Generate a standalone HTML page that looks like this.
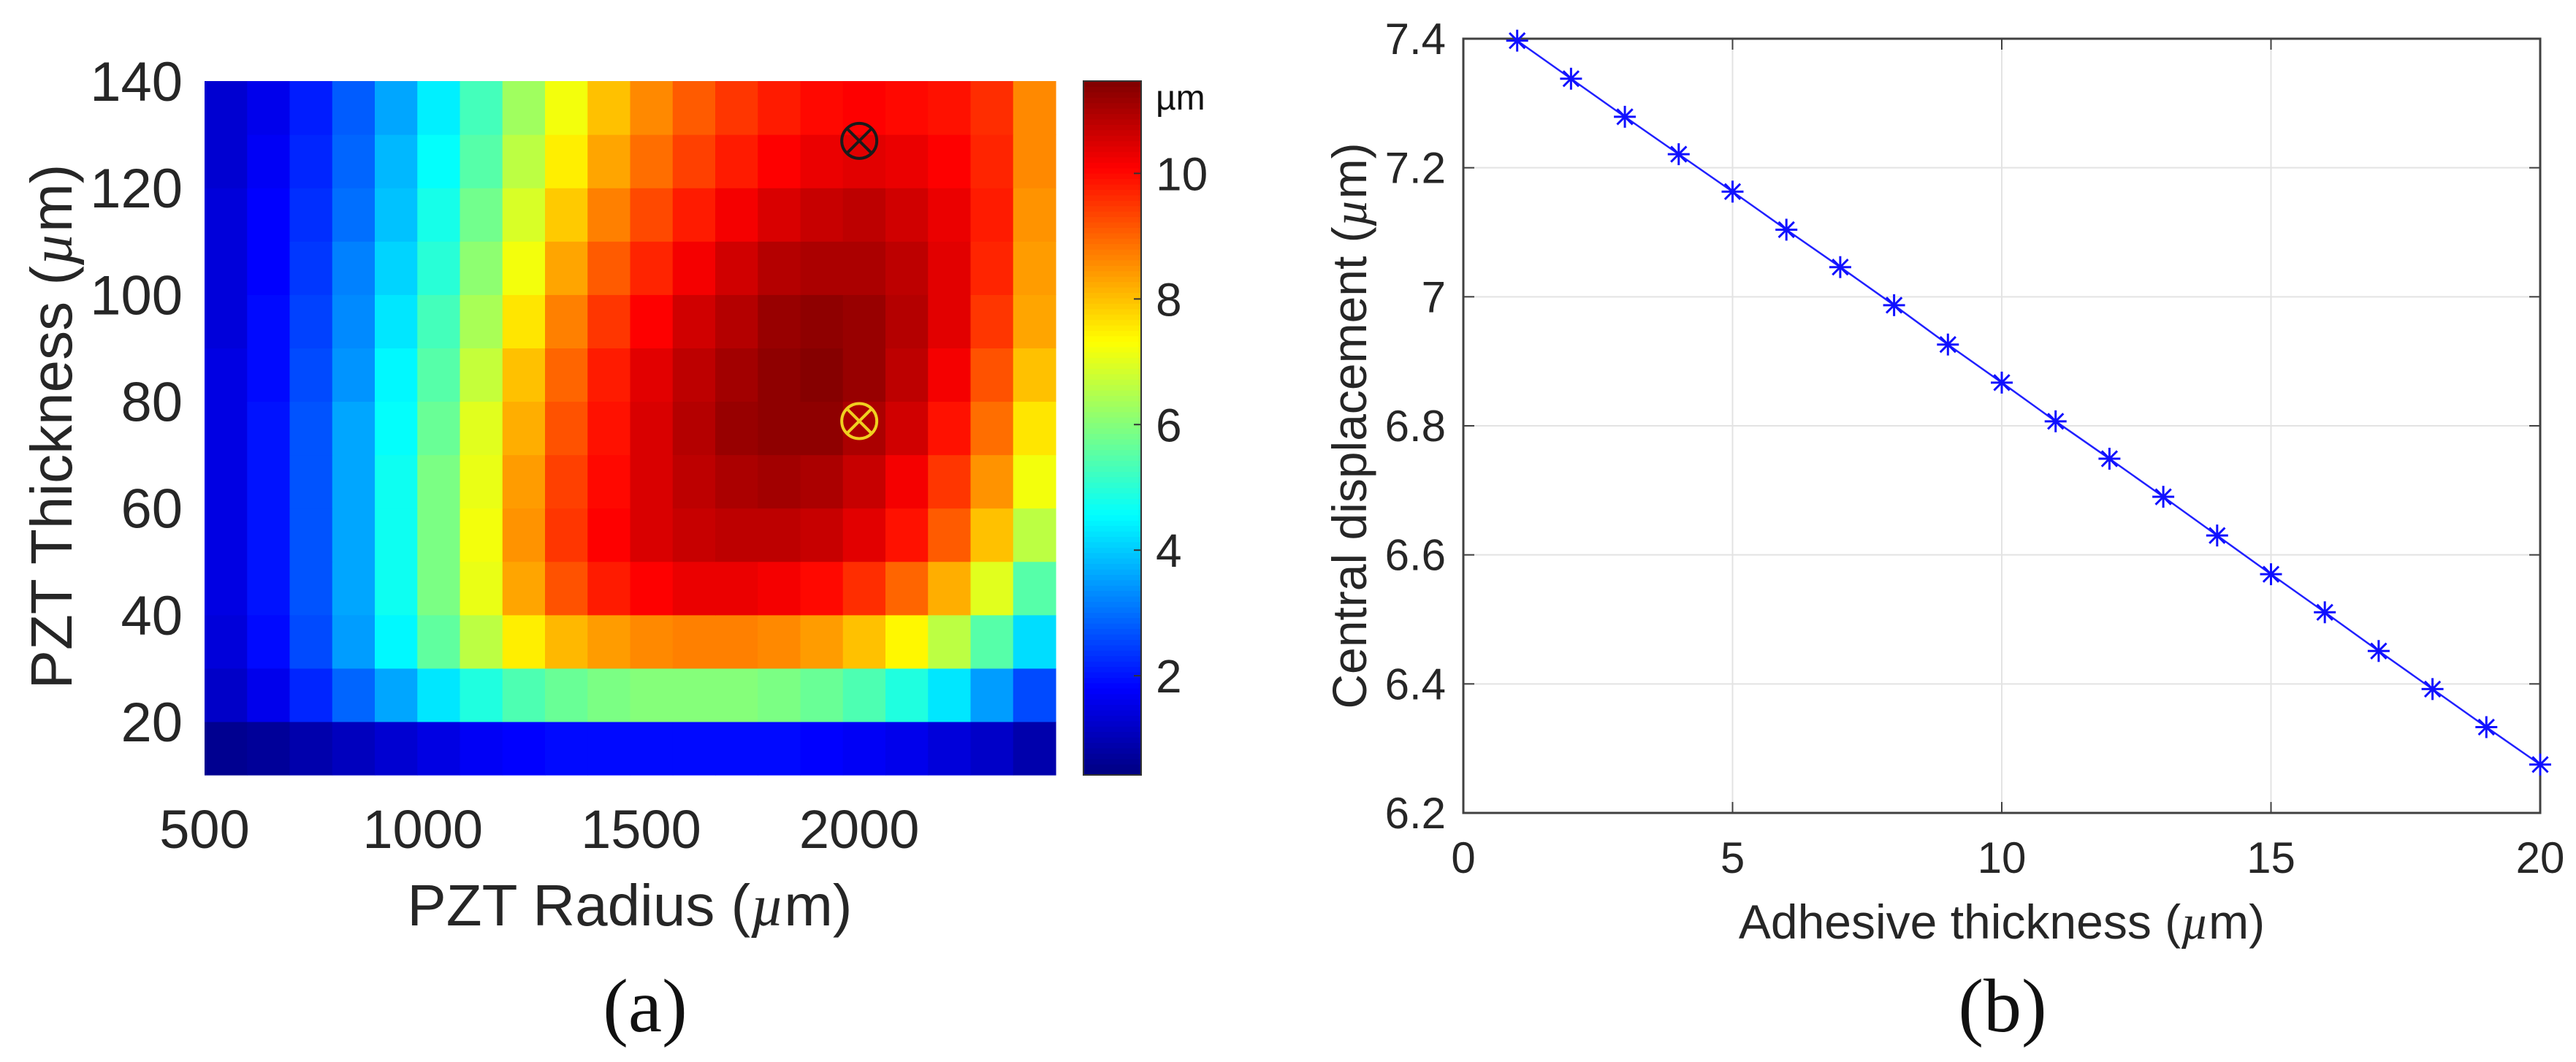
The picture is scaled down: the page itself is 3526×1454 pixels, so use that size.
<!DOCTYPE html>
<html><head><meta charset="utf-8"><style>
html,body{margin:0;padding:0;background:#fff;}
svg{display:block;}
text{font-family:"Liberation Sans",Arial,sans-serif;fill:#262626;}
</style></head><body>
<svg id="fig" width="3526" height="1454" viewBox="0 0 3526 1454" xmlns="http://www.w3.org/2000/svg">
<g id="panelA"></g>
<g id="panelB"></g>
</svg>
<script>
// ---------- Panel (a) data ----------
const radiusEdges = [500, 2450];
const thicknessCenters = [15,25,35,45,55,65,75,85,95,105,115,125,135];
const valueRows = [
 [0.6,0.7,0.9,1.1,1.3,1.5,1.7,1.8,1.9,1.9,1.9,1.9,1.9,1.9,1.8,1.7,1.6,1.4,1.2,0.9],
 [1.2,1.6,2.2,2.9,3.6,4.3,4.9,5.4,5.7,5.9,6.0,6.0,6.0,5.9,5.7,5.4,4.9,4.3,3.5,2.6],
 [1.4,1.9,2.6,3.5,4.5,5.6,6.6,7.5,8.1,8.4,8.6,8.7,8.7,8.6,8.4,8.0,7.4,6.6,5.5,4.2],
 [1.5,2.0,2.7,3.6,4.7,5.9,7.1,8.3,9.2,9.8,10.1,10.3,10.3,10.2,10.0,9.6,9.0,8.2,7.0,5.5],
 [1.5,2.0,2.7,3.6,4.7,5.9,7.2,8.5,9.5,10.1,10.5,10.7,10.8,10.8,10.7,10.4,9.9,9.1,8.0,6.6],
 [1.5,2.0,2.7,3.6,4.7,5.9,7.1,8.4,9.4,10.0,10.5,10.8,11.0,11.1,11.0,10.7,10.2,9.5,8.5,7.2],
 [1.5,2.0,2.7,3.6,4.6,5.7,7.0,8.2,9.2,9.9,10.5,10.9,11.2,11.3,11.3,11.0,10.6,9.9,8.9,7.6],
 [1.5,1.9,2.6,3.4,4.5,5.5,6.7,8.0,9.0,9.8,10.4,10.8,11.1,11.3,11.4,11.2,10.8,10.2,9.2,8.0],
 [1.4,1.9,2.5,3.3,4.3,5.3,6.4,7.6,8.7,9.5,10.1,10.6,10.9,11.2,11.3,11.2,10.9,10.4,9.5,8.3],
 [1.4,1.8,2.4,3.2,4.1,5.0,6.1,7.2,8.3,9.1,9.7,10.2,10.6,10.9,11.0,11.0,10.8,10.4,9.7,8.4],
 [1.4,1.8,2.3,3.0,3.9,4.8,5.8,6.9,7.9,8.7,9.3,9.8,10.2,10.5,10.7,10.8,10.6,10.3,9.8,8.5],
 [1.3,1.7,2.2,2.9,3.8,4.6,5.5,6.6,7.5,8.3,8.9,9.4,9.8,10.1,10.3,10.4,10.3,10.1,9.7,8.6],
 [1.3,1.6,2.1,2.8,3.6,4.4,5.3,6.3,7.2,8.0,8.6,9.1,9.5,9.8,10.0,10.1,10.0,9.9,9.6,8.6]
];
const xTicksA = [500,1000,1500,2000];
const yTicksA = [20,40,60,80,100,120,140];
const cbarTicks = [2,4,6,8,10];
const markerR = [2000, 2000];
const markerT = [128.8, 76.3];
const markerColors = ['#1a1a1a', '#f0d020'];

// ---------- Panel (b) data ----------
const adhesive = [1,2,3,4,5,6,7,8,9,10,11,12,13,14,15,16,17,18,19,20];
const displacement = [7.397,7.338,7.279,7.221,7.163,7.104,7.046,6.987,6.926,6.867,6.807,6.749,6.690,6.630,6.570,6.511,6.451,6.392,6.333,6.275];
const xTicksB = [0,5,10,15,20];
const yTicksB = [6.2,6.4,6.6,6.8,7.0,7.2,7.4];
const yTickLabelsB = ['6.2','6.4','6.6','6.8','7','7.2','7.4'];

const NS = 'http://www.w3.org/2000/svg';
function mk(tag, attrs, parent, txt){
  const e = document.createElementNS(NS, tag);
  for (const k in attrs) e.setAttribute(k, attrs[k]);
  if (txt !== undefined) e.textContent = txt;
  parent.appendChild(e);
  return e;
}
function jet(v){
  const c = x => Math.max(0, Math.min(1, x));
  const r = c(1.5 - Math.abs(4*v - 3)), g = c(1.5 - Math.abs(4*v - 2)), b = c(1.5 - Math.abs(4*v - 1));
  return 'rgb(' + Math.round(r*255) + ',' + Math.round(g*255) + ',' + Math.round(b*255) + ')';
}

// ---------- Panel (a) ----------
const A = document.getElementById('panelA');
const aL = 280, aR = 1445, aT = 111, aB = 1061;
const tMin = 10, tMax = 140;
const xA = r => aL + (r - radiusEdges[0]) * (aR - aL) / (radiusEdges[1] - radiusEdges[0]);
const yA = t => aB - (t - tMin) * (aB - aT) / (tMax - tMin);
const cMin = 0.42, cMax = 11.47;
const norm = v => (v - cMin) / (cMax - cMin);
const nCols = valueRows[0].length;
const colW = (radiusEdges[1] - radiusEdges[0]) / nCols;
const rowH = thicknessCenters[1] - thicknessCenters[0];
valueRows.forEach((row, j) => {
  row.forEach((v, i) => {
    const r0 = radiusEdges[0] + i*colW;
    const x0 = xA(r0), x1 = xA(r0 + colW);
    const y0 = yA(thicknessCenters[j] + rowH/2), y1 = yA(thicknessCenters[j] - rowH/2);
    const c = mk('rect', {x:x0, y:y0, width:x1-x0+0.6, height:y1-y0+0.6, fill:jet(norm(v))}, A);
    
    
  });
});
xTicksA.forEach(t => {
  const e = mk('text', {x:xA(t), y:1161, 'font-size':74, 'text-anchor':'middle'}, A, String(t));
  
  
});
yTicksA.forEach(t => {
  const e = mk('text', {x:250, y:yA(t)+27, 'font-size':76, 'text-anchor':'end'}, A, String(t));
  
  
});
markerR.forEach((r, k) => {
  const cx = xA(r), cy = yA(markerT[k]), rr = 24, col = markerColors[k];
  const g = mk('g', {}, A);
  
  
  mk('circle', {cx:cx, cy:cy, r:rr, fill:'none', stroke:col, 'stroke-width':4}, g);
  const d = rr*0.707;
  mk('line', {x1:cx-d, y1:cy-d, x2:cx+d, y2:cy+d, stroke:col, 'stroke-width':4}, g);
  mk('line', {x1:cx-d, y1:cy+d, x2:cx+d, y2:cy-d, stroke:col, 'stroke-width':4}, g);
});
// colorbar
const cbL = 1483, cbR = 1562;
const yC = v => aB - (v - cMin) * (aB - aT) / (cMax - cMin);
const cbar = mk('g', {}, A);


const steps = 128;
for (let s = 0; s < steps; s++) {
  const v0 = cMin + s*(cMax-cMin)/steps, v1 = cMin + (s+1)*(cMax-cMin)/steps;
  mk('rect', {x:cbL, y:yC(v1), width:cbR-cbL, height:yC(v0)-yC(v1)+0.6, fill:jet(norm((v0+v1)/2))}, cbar);
}
mk('rect', {x:cbL, y:aT, width:cbR-cbL, height:aB-aT, fill:'none', stroke:'#333', 'stroke-width':2}, cbar);
cbarTicks.forEach(t => {
  mk('line', {x1:cbR-10, x2:cbR, y1:yC(t), y2:yC(t), stroke:'#333', 'stroke-width':2}, cbar);
  const e = mk('text', {x:1582, y:yC(t)+23, 'font-size':64}, A, String(t));
  
  
});
</script>
<script>
// ---------- Panel (b) ----------
const B = document.getElementById('panelB');
const bL = 2003, bR = 3477, bT = 53, bB = 1113;
const xB = v => bL + (v - 0) * (bR - bL) / 20;
const yB = v => bB - (v - 6.2) * (bB - bT) / 1.2;
xTicksB.slice(1, -1).forEach(t => {
  const g = mk('line', {x1:xB(t), x2:xB(t), y1:bT, y2:bB, stroke:'#e3e3e3', 'stroke-width':2}, B);
  
  
});
yTicksB.slice(1, -1).forEach(t => {
  const g = mk('line', {x1:bL, x2:bR, y1:yB(t), y2:yB(t), stroke:'#e3e3e3', 'stroke-width':2}, B);
  
  
});
const box = mk('rect', {x:bL, y:bT, width:bR-bL, height:bB-bT, fill:'none', stroke:'#404040', 'stroke-width':3}, B);


xTicksB.forEach(t => {
  mk('line', {x1:xB(t), x2:xB(t), y1:bB, y2:bB-15, stroke:'#404040', 'stroke-width':2}, B);
  mk('line', {x1:xB(t), x2:xB(t), y1:bT, y2:bT+15, stroke:'#404040', 'stroke-width':2}, B);
  const e = mk('text', {x:xB(t), y:1195, 'font-size':60, 'text-anchor':'middle'}, B, String(t));
  
  
});
yTicksB.forEach((t, i) => {
  mk('line', {x1:bL, x2:bL+15, y1:yB(t), y2:yB(t), stroke:'#404040', 'stroke-width':2}, B);
  mk('line', {x1:bR, x2:bR-15, y1:yB(t), y2:yB(t), stroke:'#404040', 'stroke-width':2}, B);
  const e = mk('text', {x:1979, y:yB(t)+21, 'font-size':60, 'text-anchor':'end'}, B, yTickLabelsB[i]);
  
  
});
const pts = adhesive.map((x, i) => xB(x) + ',' + yB(displacement[i])).join(' ');
const line = mk('polyline', {points:pts, fill:'none', stroke:'#2020ff', 'stroke-width':2.5}, B);


adhesive.forEach((x, i) => {
  const cx = xB(x), cy = yB(displacement[i]), s = 15;
  const g = mk('g', {stroke:'#1010ff', 'stroke-width':3}, B);
  
  
  mk('line', {x1:cx, x2:cx, y1:cy-s, y2:cy+s}, g);
  mk('line', {x1:cx-s, x2:cx+s, y1:cy, y2:cy}, g);
  const d = s*0.707;
  mk('line', {x1:cx-d, x2:cx+d, y1:cy-d, y2:cy+d}, g);
  mk('line', {x1:cx-d, x2:cx+d, y1:cy+d, y2:cy-d}, g);
});
</script>
<svg style="position:absolute;left:0;top:0" width="3526" height="1454" xmlns="http://www.w3.org/2000/svg">
  <text x="1582" y="150" font-size="48" style="font-family:'Liberation Sans',sans-serif;fill:#111">µm</text>
  <text x="862" y="1267" font-size="80" text-anchor="middle" style="font-family:'Liberation Sans',sans-serif;fill:#262626">PZT Radius (<tspan font-style="italic" style="font-family:'Liberation Serif',serif">µ</tspan>m)</text>
  <text transform="translate(98,584) rotate(-90)" font-size="80" text-anchor="middle" style="font-family:'Liberation Sans',sans-serif;fill:#262626">PZT Thickness (<tspan font-style="italic" style="font-family:'Liberation Serif',serif">µ</tspan>m)</text>
  <text x="883" y="1412" font-size="104" text-anchor="middle" style="font-family:'Liberation Serif',serif;fill:#111">(a)</text>
  <text x="2740" y="1285" font-size="66" text-anchor="middle" style="font-family:'Liberation Sans',sans-serif;fill:#262626">Adhesive thickness (<tspan font-style="italic" style="font-family:'Liberation Serif',serif">µ</tspan>m)</text>
  <text transform="translate(1870,583) rotate(-90)" font-size="66" text-anchor="middle" style="font-family:'Liberation Sans',sans-serif;fill:#262626">Central displacement (<tspan font-style="italic" style="font-family:'Liberation Serif',serif">µ</tspan>m)</text>
  <text x="2741" y="1412" font-size="104" text-anchor="middle" style="font-family:'Liberation Serif',serif;fill:#111">(b)</text>
</svg>
</body></html>
